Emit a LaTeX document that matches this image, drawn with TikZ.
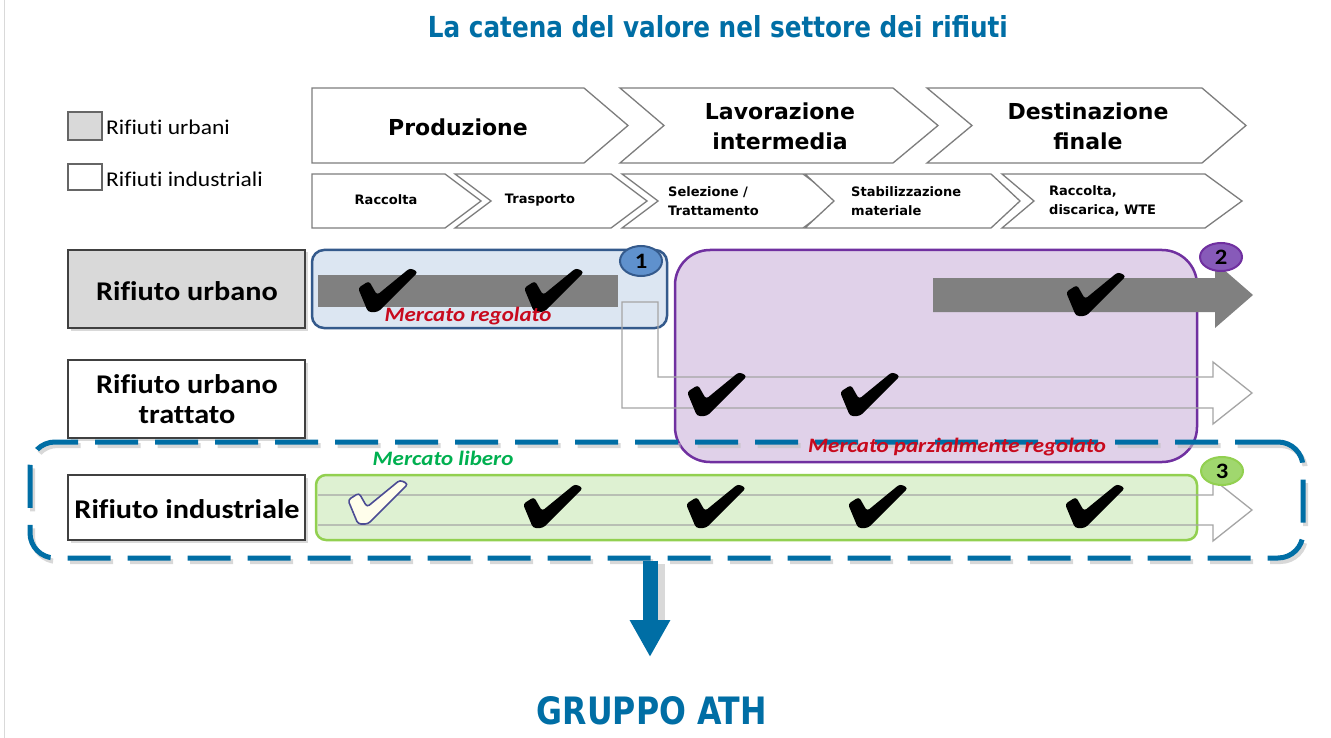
\documentclass[tikz,border=0pt]{standalone}
\usepackage{fontspec}
\usepackage{graphicx}
\usetikzlibrary{arrows.meta,shapes.geometric}
\newfontfamily\carl{Carlito}[FakeStretch=1.12,Ligatures=NoCommon]
\newfontfamily\dvb{DejaVu Sans}
\newfontfamily\dvc{DejaVu Sans Condensed}
\definecolor{ttl}{RGB}{0,110,165}
\definecolor{chevline}{RGB}{125,125,125}
\definecolor{lgray}{RGB}{217,217,217}
\definecolor{bar}{RGB}{128,128,128}
\definecolor{bluefill}{RGB}{220,230,242}
\definecolor{bluedraw}{RGB}{52,90,140}
\definecolor{c1fill}{RGB}{95,145,205}
\definecolor{purfill}{RGB}{224,209,233}
\definecolor{purdraw}{RGB}{112,48,160}
\definecolor{c2fill}{RGB}{135,90,185}
\definecolor{grnfill}{RGB}{222,241,210}
\definecolor{grndraw}{RGB}{146,208,80}
\definecolor{c3fill}{RGB}{160,215,110}
\definecolor{thin}{RGB}{165,165,165}
\definecolor{redtxt}{RGB}{200,10,30}
\definecolor{grntxt}{RGB}{0,176,80}
\tikzset{
  chev/.style={draw=chevline, fill=white, line width=1.3pt},
  bigtxt/.style={font=\dvb\bfseries\fontsize{22}{30}\selectfont, align=center, inner sep=0},
  smalltxt/.style={font=\dvb\bfseries\fontsize{13}{19}\selectfont, align=left, inner sep=0},
  rowbox/.style={draw=black!75, line width=1.3pt},
  rowtxt/.style={font=\carl\bfseries\fontsize{27}{30}\selectfont, align=center, inner sep=0},
  legtxt/.style={font=\carl\fontsize{21}{24}\selectfont, anchor=west, inner sep=0},
  mkt/.style={font=\carl\bfseries\itshape\fontsize{20.5}{24}\selectfont, inner sep=0},
  numtxt/.style={font=\carl\bfseries\fontsize{22}{24}\selectfont, inner sep=0},
  thinarrow/.style={draw=thin, line width=1.3pt},
  chk/.pic={\fill[rounded corners=3pt] (-30,-2) -- (-19,-9) -- (-11,5) -- (22,-22) -- (30,-18) -- (-10,22) -- (-20,22) -- cycle;},
  chkw/.pic={\filldraw[fill=white!92!yellow, draw=black!30!blue!40!gray, line width=1.6pt, rounded corners=3pt] (-30,-2) -- (-19,-9) -- (-11,5) -- (22,-22) -- (30,-18) -- (-10,22) -- (-20,22) -- cycle;}
}
\begin{document}
\begin{tikzpicture}[x=1pt,y=-1pt]
\useasboundingbox (0,0) rectangle (1331,738);
\fill[white] (0,0) rectangle (1331,738);
\draw[black!15, line width=1pt] (4,0) -- (4,738);

% title
\node[text=ttl, inner sep=0] (title) at (718,27) {\resizebox{580pt}{22pt}{\dvc\bfseries La catena del valore nel settore dei rifiuti}};

% legend
\draw[draw=black!60, fill=lgray, line width=1.3pt] (68,112) rectangle (102,140);
\draw[draw=black!60, fill=white, line width=1.3pt] (68,164) rectangle (102,190);
\node[legtxt] (leg1) at (106,127) {Rifiuti urbani};
\node[legtxt] (leg2) at (106,179) {Rifiuti industriali};

% big chevrons
\draw[chev] (312,88) -- (584,88) -- (628,125.5) -- (584,163) -- (312,163) -- cycle;
\draw[chev] (620,88) -- (893,88) -- (938,125.5) -- (893,163) -- (620,163) -- (664,125.5) -- cycle;
\draw[chev] (927,88) -- (1202,88) -- (1246,125.5) -- (1202,163) -- (927,163) -- (972,125.5) -- cycle;
\node[bigtxt] (prod) at (458,127) {Produzione};
\node[bigtxt] (lav) at (780,126) {Lavorazione\\intermedia};
\node[bigtxt] (dest) at (1088,126) {Destinazione\\finale};

% small chevrons
\draw[chev] (312,174) -- (445,174) -- (481,201) -- (445,228) -- (312,228) -- cycle;
\draw[chev] (455,174) -- (611,174) -- (647,201) -- (611,228) -- (455,228) -- (491,201) -- cycle;
\draw[chev] (622,174) -- (803,174) -- (839,201) -- (803,228) -- (622,228) -- (658,201) -- cycle;
\draw[chev] (805,174) -- (991,174) -- (1020,201) -- (991,228) -- (805,228) -- (834,201) -- cycle;
\draw[chev] (1002,174) -- (1205,174) -- (1242,201) -- (1205,228) -- (1002,228) -- (1034,201) -- cycle;
\node[smalltxt] (s1) at (386,200) {Raccolta};
\node[smalltxt] (s2) at (540,200) {Trasporto};
\node[smalltxt, anchor=west] (s3) at (668,201) {Selezione /\\Trattamento};
\node[smalltxt, anchor=west] (s4) at (851,201) {Stabilizzazione\\materiale};
\node[smalltxt, anchor=west] (s5) at (1049,201) {Raccolta,\\discarica, WTE};

% row labels
\fill[black!15] (70.5,252.5) rectangle (307.5,330.5);
\draw[rowbox, fill=lgray] (68,250) rectangle (305,328);
\node[rowtxt] (r1) at (187,291) {Rifiuto urbano};
\fill[black!15] (70.5,362.5) rectangle (307.5,440.5);
\draw[rowbox, fill=white] (68,360) rectangle (305,438);
\node[rowtxt] (r2) at (187,399) {Rifiuto urbano\\trattato};
\fill[black!15] (70.5,477.5) rectangle (307.5,542.5);
\draw[rowbox, fill=white] (68,475) rectangle (305,540);
\node[rowtxt] (r3) at (187,509) {Rifiuto industriale};

% box 1 (blue)
\draw[fill=bluefill, draw=bluedraw, line width=2.5pt, rounded corners=12pt] (312,250) rectangle (667,328);
\fill[bar] (318,275) rectangle (618,307);

% box 2 (purple)
\draw[fill=purfill, draw=purdraw, line width=2.5pt, rounded corners=35pt] (675,250) rectangle (1197,462);

% hollow bent arrow (row urbano trattato)
\draw[thinarrow] (622,302) -- (658,302) -- (658,377) -- (1213,377) -- (1213,362) -- (1252,393) -- (1213,424) -- (1213,408) -- (622,408) -- cycle;

% grey arrow row 1 right
\fill[bar] (933,278) -- (1215,278) -- (1215,262) -- (1253,295) -- (1215,328) -- (1215,312) -- (933,312) -- cycle;

% circles 1 and 2
\node[ellipse, draw=bluedraw, fill=c1fill, line width=2pt, minimum width=42pt, minimum height=30pt, inner sep=0] (n1) at (641,261) {};
\node[numtxt] (n1t) at (n1) {1};
\node[ellipse, draw=purdraw, fill=c2fill, line width=2pt, minimum width=42pt, minimum height=28pt, inner sep=0] (n2) at (1221,257) {};
\node[numtxt] (n2t) at (n2) {2};

% checks rows 1-2
\pic[black] at (388,290) {chk};
\pic[black] at (554,290) {chk};
\pic[black] at (1096,294) {chk};
\pic[black] at (717,394) {chk};
\pic[black] at (870,394) {chk};

\node[mkt, text=redtxt] (mreg) at (468,316) {Mercato regolato};

% dashed group box
\node[draw=black!25, line width=5pt, dash pattern=on 43pt off 17pt, rounded corners=25pt, minimum width=1273pt, minimum height=116pt, inner sep=0, opacity=0.6] (grpshadow) at (669,503.5) {};
\node[draw=ttl, line width=5pt, dash pattern=on 43pt off 17pt, rounded corners=25pt, minimum width=1273pt, minimum height=116pt, inner sep=0] (grp) at (666.5,500) {};

\node[mkt, text=redtxt] (mpar) at (957,447) {Mercato parzialmente regolato};

% green box
\draw[fill=grnfill, draw=grndraw, line width=2.5pt, rounded corners=10pt] (316,475) rectangle (1197,540);
\draw[thinarrow] (318,495) -- (1213,495) -- (1213,479) -- (1252,510) -- (1213,541) -- (1213,525) -- (318,525);
\node[ellipse, draw=grndraw, fill=c3fill, line width=2pt, minimum width=42pt, minimum height=28pt, inner sep=0] (n3) at (1222,471) {};
\node[numtxt] (n3t) at (n3) {3};
\node[mkt, text=grntxt] (mlib) at (443,458) {Mercato libero};

\pic at (378,502) {chkw};
\pic[black] at (553,506) {chk};
\pic[black] at (716,506) {chk};
\pic[black] at (878,506) {chk};
\pic[black] at (1095,506) {chk};

% arrow to GRUPPO ATH
\node[text=ttl, inner sep=0] (ath) at (652,711) {\resizebox{230pt}{28pt}{\dvc\bfseries GRUPPO ATH}};
\coordinate (tip) at (650,657);
\fill[black!15] (654,564) rectangle (665,622);
\draw[draw=ttl, line width=15pt, -{Triangle[width=38pt,length=37pt]}] (grp.south -| tip) -- (tip);
\end{tikzpicture}
\end{document}
